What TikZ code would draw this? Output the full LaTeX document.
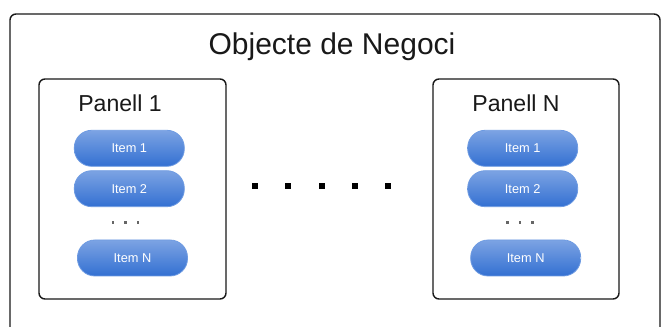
\documentclass[tikz,border=0pt]{standalone}
\usepackage{fontspec}
\setmainfont{Liberation Sans}
\begin{document}
\begin{tikzpicture}[x=0.75pt,y=-0.75pt,
  frame/.style={draw=black!90,line width=1.4pt*0.75,rounded corners=4.5pt},
  itembox/.style={rectangle,rounded corners=13pt,minimum width=110*0.75pt,
    minimum height=36*0.75pt,inner sep=0pt,top color=itemtop,bottom color=itembot,
    draw=itemedge,line width=0.6pt,text=white,font=\fontsize{9.6pt}{11pt}\selectfont},
  paneltitle/.style={font=\fontsize{17.3pt}{20pt}\selectfont,text=black!90,inner sep=0pt},
  smalldot/.style={fill=black!60,minimum size=2.2pt,inner sep=0pt,rectangle},
  bigdot/.style={fill=black,minimum size=4.5pt,inner sep=0pt,rectangle}]
\definecolor{itemtop}{HTML}{7CA3E3}
\definecolor{itembot}{HTML}{3370D2}
\definecolor{itemedge}{HTML}{6E9BE2}
\useasboundingbox (0,0) rectangle (664,327);
\fill[white] (0,0) rectangle (664,327);
% outer container, running past the lower edge
\begin{scope}
  \clip (0,0) rectangle (664,327);
  \draw[frame] (10,14) rectangle (660,345);
\end{scope}
\node[font=\fontsize{22.5pt}{26pt}\selectfont,text=black!90,inner sep=0pt] (title) at (332,47) {Objecte de Negoci};
% left panel
\draw[frame] (39,79) rectangle (226,299);
\node[paneltitle] (p1) at (120,103) {Panell 1};
\node[itembox] (a1) at (129.3,148.3) {Item 1};
\node[itembox] (a2) at (129.3,188.7) {Item 2};
\node[smalldot] (ad1) at (113,222.7) {};
\node[smalldot] (ad2) at (125.5,222.7) {};
\node[smalldot] (ad3) at (138,222.7) {};
\node[itembox] (an) at (132.5,258) {Item N};
% right panel
\draw[frame] (433,79) rectangle (619,299);
\node[paneltitle] (pn) at (516,103) {Panell N};
\node[itembox] (b1) at (522.7,148.3) {Item 1};
\node[itembox] (b2) at (522.7,188.7) {Item 2};
\node[smalldot] (bd1) at (507.5,222.7) {};
\node[smalldot] (bd2) at (520,222.7) {};
\node[smalldot] (bd3) at (532.5,222.7) {};
\node[itembox] (bn) at (525.7,258) {Item N};
% ellipsis between panels
\foreach \i/\xx in {1/255,2/288.3,3/321.7,4/355,5/388.3}
  \node[bigdot] (m\i) at (\xx,186) {};
\end{tikzpicture}
\end{document}
